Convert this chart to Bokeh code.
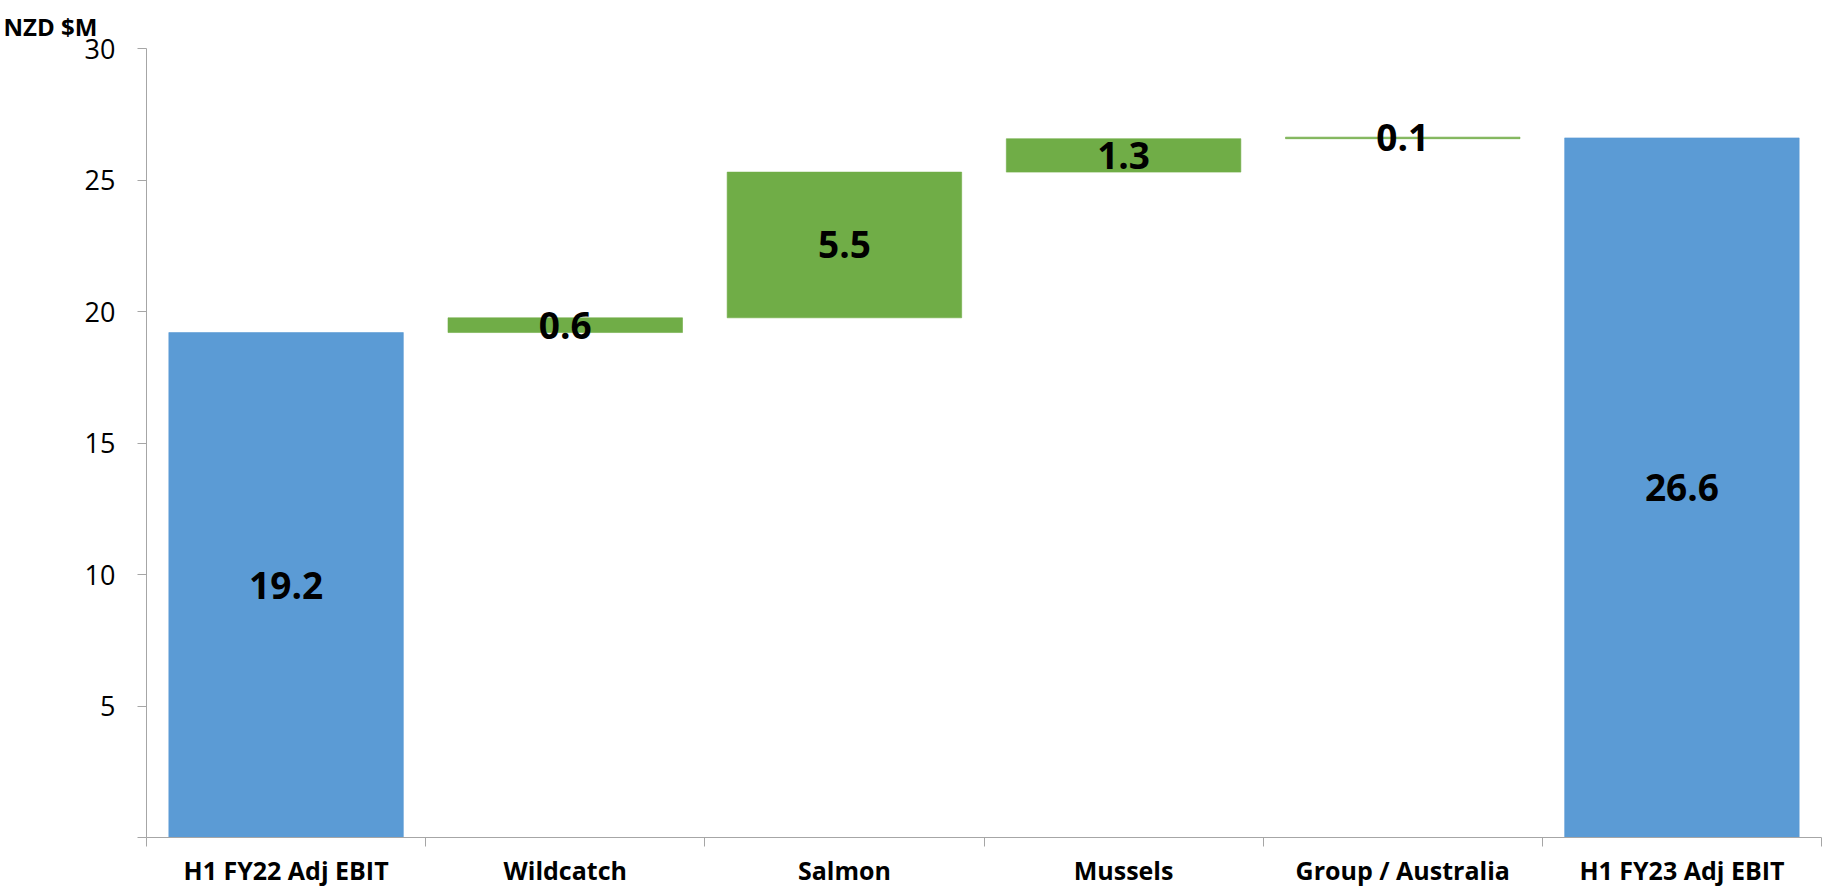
from bokeh.plotting import figure
from bokeh.models import Range1d, FixedTicker, ColumnDataSource
from bokeh.core.properties import value
from bokeh.embed import file_html
from bokeh.resources import INLINE

# ---- data ----
categories = ["H1 FY22 Adj EBIT", "Wildcatch", "Salmon", "Mussels",
              "Group / Australia", "H1 FY23 Adj EBIT"]
start_value = 19.2
deltas = [0.56, 5.54, 1.27, 0.06]
end_value = 26.6
value_labels = ["19.2", "0.6", "5.5", "1.3", "0.1", "26.6"]
y_ticks = [0, 5, 10, 15, 20, 25, 30]

BLUE = "#5B9BD5"
GREEN = "#70AD47"
AXIS = "#A6A6A6"

# ---- waterfall geometry from data ----
bottoms, tops = [0.0], [start_value]
level = start_value
for d in deltas:
    bottoms.append(level)
    level += d
    tops.append(level)
bottoms.append(0.0)
tops.append(end_value)
colors = [BLUE] + [GREEN] * len(deltas) + [BLUE]
xs = [i + 0.5 for i in range(len(categories))]
mids = [(b + t) / 2 for b, t in zip(bottoms, tops)]

src = ColumnDataSource(dict(x=xs, bottom=bottoms, top=tops, color=colors,
                            mid=mids, label=value_labels))

p = figure(width=1824, height=889, output_backend="svg", toolbar_location=None,
           x_range=Range1d(0, len(categories)), y_range=Range1d(0, 30),
           min_border_left=146, min_border_right=3, min_border_top=48,
           min_border_bottom=50, title="NZD $M")
p.outline_line_color = None
p.xgrid.visible = False
p.ygrid.visible = False
p.background_fill_color = "white"
p.border_fill_color = "white"

p.title.text_font = "Open Sans"
p.title.text_font_style = "bold"
p.title.text_font_size = "24px"
p.title.text_color = "black"
p.title.align = "left"
p.title.offset = -143
p.title.standoff = 12

p.vbar(x="x", bottom="bottom", top="top", width=0.84, fill_color="color",
       line_color="color", line_width=0.6, source=src)

p.text(x="x", y="mid", text="label", source=src, text_align="center",
       text_baseline="middle", text_font=value("Open Sans"),
       text_font_style="bold", text_font_size="37px", text_color="black")

# y axis
ya = p.yaxis[0]
ya.ticker = FixedTicker(ticks=y_ticks, minor_ticks=[])
ya.major_label_overrides = {0: ""}
ya.axis_line_color = AXIS
ya.major_tick_line_color = AXIS
ya.major_tick_out = 9
ya.major_tick_in = 0
ya.minor_tick_line_color = None
ya.major_label_standoff = 22
ya.major_label_text_font = "Open Sans"
ya.major_label_text_font_size = "27px"
ya.major_label_text_color = "black"

# x axis
xa = p.xaxis[0]
xa.ticker = FixedTicker(ticks=xs, minor_ticks=list(range(len(categories) + 1)))
xa.major_label_overrides = {x: c for x, c in zip(xs, categories)}
xa.axis_line_color = AXIS
xa.major_tick_line_color = None
xa.major_tick_out = 0
xa.major_tick_in = 0
xa.minor_tick_line_color = AXIS
xa.minor_tick_out = 9
xa.minor_tick_in = 0
xa.major_label_standoff = 6
xa.major_label_text_font = "Open Sans"
xa.major_label_text_font_style = "bold"
xa.major_label_text_font_size = "25px"
xa.major_label_text_color = "black"

open("out.html", "w").write(file_html(p, INLINE))
